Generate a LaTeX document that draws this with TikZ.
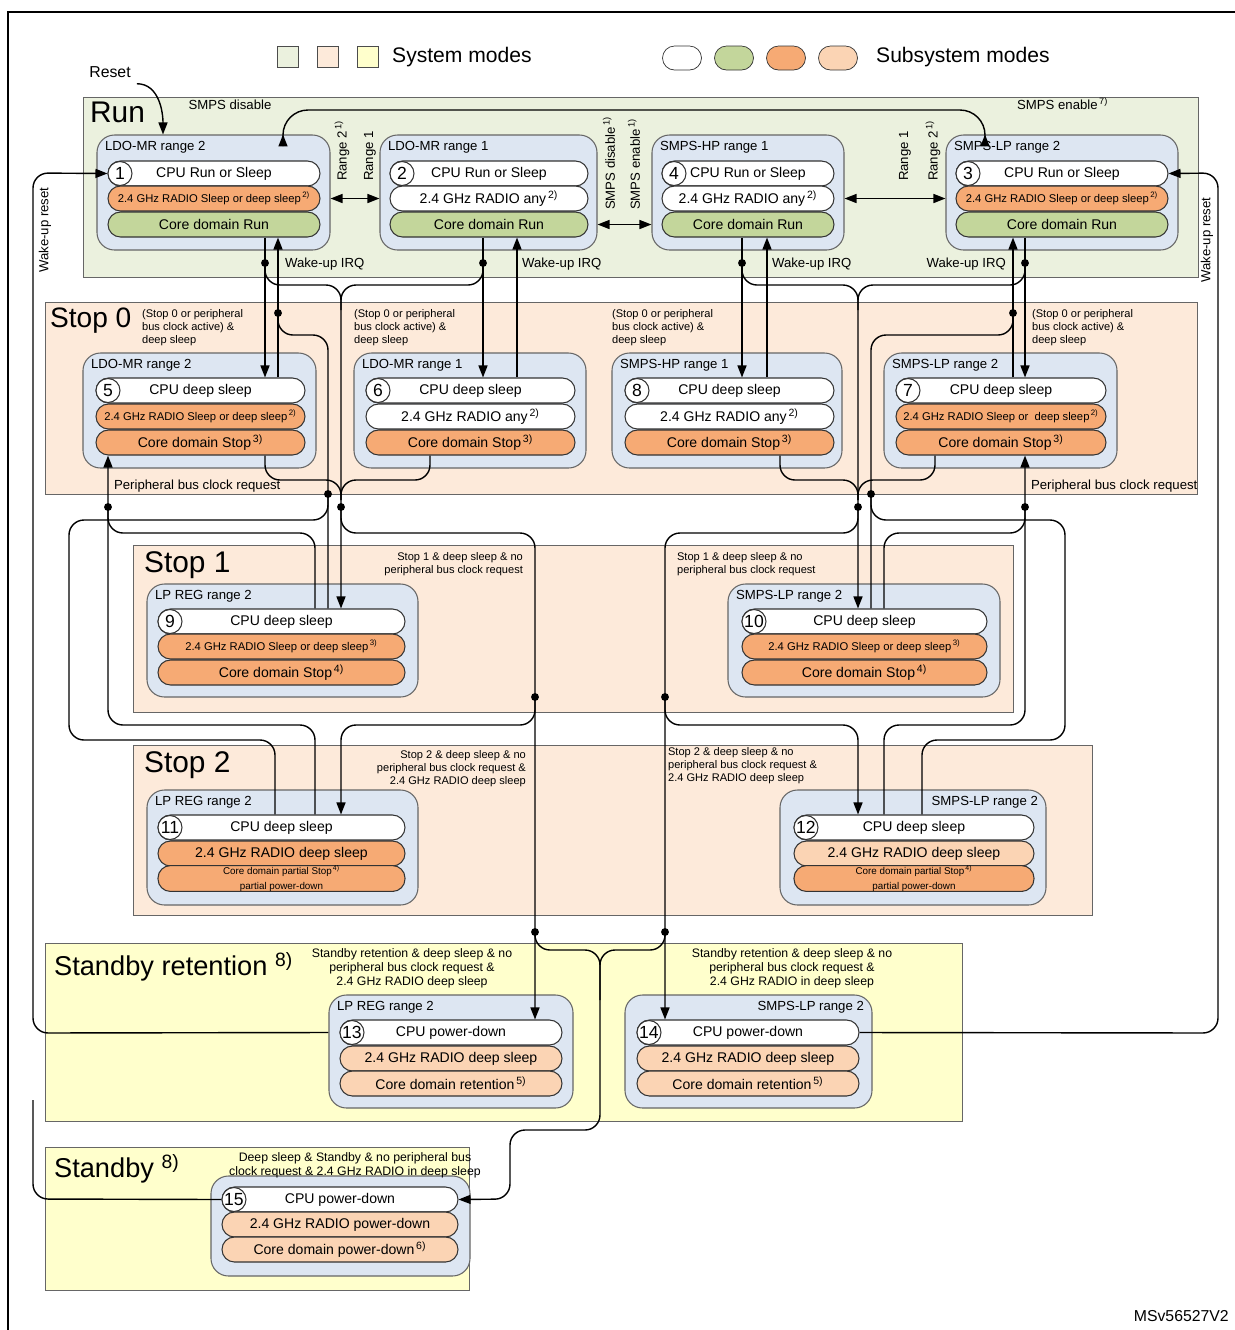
\documentclass[tikz,border=0pt]{standalone}
\usepackage{fontspec}
\setmainfont{Liberation Sans}
\usetikzlibrary{arrows.meta, positioning}
\definecolor{runbg}{RGB}{235, 241, 222}
\definecolor{stopbg}{RGB}{253, 234, 218}
\definecolor{stbybg}{RGB}{255, 255, 204}
\definecolor{boxbg}{RGB}{221, 230, 242}
\definecolor{greenpill}{RGB}{195, 214, 155}
\definecolor{orangepill}{RGB}{246, 170, 116}
\definecolor{peachpill}{RGB}{251, 212, 180}

\tikzset{
  region/.style={draw=black!60, line width=0.5pt},
  modebox/.style={draw=black!60, fill=boxbg, rounded corners=0.35cm, line width=0.6pt},
  pill/.style={draw=black!80, rounded corners=0.25cm, minimum height=0.5cm, inner sep=0pt, line width=0.6pt, font=\fontsize{8}{9}\selectfont},
  num/.style={circle, draw=black!80, fill=white, minimum size=0.48cm, inner sep=0pt, line width=0.6pt, font=\fontsize{10}{10}\selectfont},
  title/.style={font=\fontsize{7.5}{8}\selectfont, inner sep=1pt},
  note/.style={font=\fontsize{6.3}{7.5}\selectfont, align=left, inner sep=1pt},
  cond/.style={font=\fontsize{7}{8.2}\selectfont, align=center, inner sep=1pt},
  big/.style={font=\fontsize{17}{17}\selectfont, inner sep=1pt},
  conn/.style={draw, line width=0.8pt, rounded corners=0.3cm},
  arr/.style={-{Triangle[length=2.4mm, width=1.8mm]}},
  biarr/.style={{Triangle[length=2.4mm, width=1.8mm]}-{Triangle[length=2.4mm, width=1.8mm]}},
  dot/.style={circle, fill, inner sep=0pt, minimum size=4.5pt}
}

% blue state box: name, x1, y1, x2, y2
\newcommand{\statebox}[5]{%
  \node[modebox, minimum width={(#4-#2)*0.02cm}, minimum height={(#5-#3)*0.02cm}] (#1) at ({(#2+#4)/2},{(#3+#5)/2}) {};}
% pill: name, x1, x2, ytop, colour, text
\newcommand{\pill}[6]{%
  \node[pill, fill=#5, minimum width={(#3-#2)*0.02cm}] (#1) at ({(#2+#3)/2},{#4+12.5}) {#6};}
\newcommand{\fn}[1]{\textsuperscript{\,#1)}}
\newcommand{\sm}{\fontsize{6.4}{7}\selectfont}
\newcommand{\xs}{\fontsize{5.6}{6.2}\selectfont}

\begin{document}
\begin{tikzpicture}[x=0.02cm, y=-0.02cm]
  \useasboundingbox (0,0) rectangle (1235,1330);
  \draw[line width=0.8pt] (8,1330) -- (8,12) -- (1235,12);

  % legend
  \foreach \c [count=\i] in {runbg, stopbg, stbybg}
    \node[draw=black!70, fill=\c, minimum size=0.42cm, inner sep=0pt] (lsq\i) at ({248+40*\i},57) {};
  \node[anchor=west, font=\fontsize{12}{12}\selectfont] (lsys) at (386,57) {System modes};
  \foreach \c [count=\i] in {white, greenpill, orangepill, peachpill}
    \node[draw=black!80, fill=\c, rounded corners=0.24cm, minimum width=0.78cm, minimum height=0.48cm] (lov\i) at ({630+52*\i},58) {};
  \node[anchor=west, font=\fontsize{12}{12}\selectfont] (lsub) at (870,57) {Subsystem modes};

  % system mode regions
  \draw[region, fill=runbg] (83,97) rectangle (1198,277);
  \draw[region, fill=stopbg] (45,302) rectangle (1197,494);
  \draw[region, fill=stopbg] (133,545) rectangle (1013,712);
  \draw[region, fill=stopbg] (133,745) rectangle (1092,915);
  \draw[region, fill=stbybg] (45,943) rectangle (962,1121);
  \draw[region, fill=stbybg] (45,1147) rectangle (469,1290);
  \node[big, anchor=north west] (lrun) at (88,100) {Run};
  \node[big, anchor=north west, font=\fontsize{16}{16}\selectfont] (lstop0) at (48,306) {Stop 0};
  \node[big, anchor=north west] (lstop1) at (142,550) {Stop 1};
  \node[big, anchor=north west] (lstop2) at (142,750) {Stop 2};
  \node[big, anchor=north west, font=\fontsize{15.5}{16}\selectfont] (lret) at (52,950) {Standby retention \textsuperscript{\fontsize{11}{11}\selectfont 8)}};
  \node[big, anchor=north west, font=\fontsize{15.5}{16}\selectfont] (lstby) at (52,1152) {Standby \textsuperscript{\fontsize{11}{11}\selectfont 8)}};

  % Run states
  \statebox{b1}{97}{135}{330}{250}
  \statebox{b2}{380}{135}{597}{250}
  \statebox{b4}{652}{135}{844}{250}
  \statebox{b3}{946}{135}{1178}{250}
  \node[title, anchor=west] at (103,147) {LDO-MR range 2};
  \node[title, anchor=west] at (386,147) {LDO-MR range 1};
  \node[title, anchor=west] at (658,147) {SMPS-HP range 1};
  \node[title, anchor=west] at (952,147) {SMPS-LP range 2};
  \pill{s1a}{108}{320}{161}{white}{CPU Run or Sleep}
  \pill{s1b}{108}{320}{186}{orangepill}{\sm 2.4 GHz RADIO Sleep or deep sleep\fn{2}}
  \pill{s1c}{108}{320}{212}{greenpill}{Core domain Run}
  \pill{s2a}{390}{588}{161}{white}{CPU Run or Sleep}
  \pill{s2b}{390}{588}{186}{white}{2.4 GHz RADIO any\fn{2}}
  \pill{s2c}{390}{588}{212}{greenpill}{Core domain Run}
  \pill{s4a}{662}{834}{161}{white}{CPU Run or Sleep}
  \pill{s4b}{662}{834}{186}{white}{2.4 GHz RADIO any\fn{2}}
  \pill{s4c}{662}{834}{212}{greenpill}{Core domain Run}
  \pill{s3a}{956}{1168}{161}{white}{CPU Run or Sleep}
  \pill{s3b}{956}{1168}{186}{orangepill}{\sm 2.4 GHz RADIO Sleep or deep sleep\fn{2}}
  \pill{s3c}{956}{1168}{212}{greenpill}{Core domain Run}

  % Stop 0 states
  \statebox{b5}{83}{353}{316}{468}
  \statebox{b6}{354}{353}{586}{468}
  \statebox{b8}{612}{353}{842}{468}
  \statebox{b7}{884}{353}{1117}{468}
  \node[title, anchor=west] at (89,365) {LDO-MR range 2};
  \node[title, anchor=west] at (360,365) {LDO-MR range 1};
  \node[title, anchor=west] at (618,365) {SMPS-HP range 1};
  \node[title, anchor=west] at (890,365) {SMPS-LP range 2};
  \pill{s5a}{96}{305}{378}{white}{CPU deep sleep}
  \pill{s5b}{96}{305}{404}{orangepill}{\sm 2.4 GHz RADIO Sleep or deep sleep\fn{2}}
  \pill{s5c}{96}{305}{430}{orangepill}{Core domain Stop\fn{3}}
  \pill{s6a}{366}{575}{378}{white}{CPU deep sleep}
  \pill{s6b}{366}{575}{404}{white}{2.4 GHz RADIO any\fn{2}}
  \pill{s6c}{366}{575}{430}{orangepill}{Core domain Stop\fn{3}}
  \pill{s8a}{625}{834}{378}{white}{CPU deep sleep}
  \pill{s8b}{625}{834}{404}{white}{2.4 GHz RADIO any\fn{2}}
  \pill{s8c}{625}{834}{430}{orangepill}{Core domain Stop\fn{3}}
  \pill{s7a}{896}{1106}{378}{white}{CPU deep sleep}
  \pill{s7b}{896}{1106}{404}{orangepill}{\sm 2.4 GHz RADIO Sleep or\ \ deep sleep\fn{2}}
  \pill{s7c}{896}{1106}{430}{orangepill}{Core domain Stop\fn{3}}

  % Stop 1 states
  \statebox{b9}{147}{584}{418}{697}
  \statebox{b10}{728}{584}{1000}{697}
  \node[title, anchor=west] at (153,596) {LP REG range 2};
  \node[title, anchor=west] at (734,596) {SMPS-LP range 2};
  \pill{s9a}{158}{405}{609}{white}{CPU deep sleep}
  \pill{s9b}{158}{405}{634}{orangepill}{\sm 2.4 GHz RADIO Sleep or deep sleep\fn{3}}
  \pill{s9c}{158}{405}{660}{orangepill}{Core domain Stop\fn{4}}
  \pill{s10a}{742}{987}{609}{white}{CPU deep sleep}
  \pill{s10b}{742}{987}{634}{orangepill}{\sm 2.4 GHz RADIO Sleep or deep sleep\fn{3}}
  \pill{s10c}{742}{987}{660}{orangepill}{Core domain Stop\fn{4}}

  % Stop 2 states
  \statebox{b11}{147}{790}{418}{905}
  \statebox{b12}{780}{790}{1046}{905}
  \node[title, anchor=west] at (153,802) {LP REG range 2};
  \node[title, anchor=east] at (1040,802) {SMPS-LP range 2};
  \pill{s11a}{158}{405}{815}{white}{CPU deep sleep}
  \pill{s11b}{158}{405}{841}{orangepill}{2.4 GHz RADIO deep sleep}
  \pill{s11c}{158}{405}{866}{orangepill}{\xs\shortstack{Core domain partial Stop\fn{4}\\partial power-down}}
  \pill{s12a}{794}{1034}{815}{white}{CPU deep sleep}
  \pill{s12b}{794}{1034}{841}{peachpill}{2.4 GHz RADIO deep sleep}
  \pill{s12c}{794}{1034}{866}{orangepill}{\xs\shortstack{Core domain partial Stop\fn{4}\\partial power-down}}

  % Standby retention states
  \statebox{b13}{329}{995}{573}{1108}
  \statebox{b14}{625}{995}{872}{1108}
  \node[title, anchor=west] at (335,1007) {LP REG range 2};
  \node[title, anchor=east] at (866,1007) {SMPS-LP range 2};
  \pill{s13a}{340}{562}{1020}{white}{CPU power-down}
  \pill{s13b}{340}{562}{1046}{peachpill}{2.4 GHz RADIO deep sleep}
  \pill{s13c}{340}{562}{1071}{peachpill}{Core domain retention\fn{5}}
  \pill{s14a}{637}{859}{1020}{white}{CPU power-down}
  \pill{s14b}{637}{859}{1046}{peachpill}{2.4 GHz RADIO deep sleep}
  \pill{s14c}{637}{859}{1071}{peachpill}{Core domain retention\fn{5}}

  % Standby state
  \statebox{b15}{211}{1176}{470}{1276}
  \pill{s15a}{222}{458}{1187}{white}{CPU power-down}
  \pill{s15b}{222}{458}{1212}{peachpill}{2.4 GHz RADIO power-down}
  \pill{s15c}{222}{458}{1237}{peachpill}{Core domain power-down\fn{6}}

  % state numbers
  \foreach \n/\p in {1/s1a, 2/s2a, 4/s4a, 3/s3a, 5/s5a, 6/s6a, 8/s8a, 7/s7a,
                     9/s9a, 10/s10a, 11/s11a, 12/s12a, 13/s13a, 14/s14a, 15/s15a}
    \node[num, right=0pt of \p.west] (n\n) {\n};

  % conditions
  \node[note, anchor=north west] (c0a) at (140,307) {(Stop 0 or peripheral\\bus clock active) \&\\deep sleep};
  \node[note, anchor=north west] (c0b) at (352,307) {(Stop 0 or peripheral\\bus clock active) \&\\deep sleep};
  \node[note, anchor=north west] (c0c) at (610,307) {(Stop 0 or peripheral\\bus clock active) \&\\deep sleep};
  \node[note, anchor=north west] (c0d) at (1030,307) {(Stop 0 or peripheral\\bus clock active) \&\\deep sleep};
  \node[note, align=right, anchor=north east] (c1a) at (525,550) {Stop 1 \& deep sleep \& no\\peripheral bus clock request};
  \node[note, anchor=north west] (c1b) at (675,550) {Stop 1 \& deep sleep \& no\\peripheral bus clock request};
  \node[note, align=right, anchor=north east] (c2a) at (528,748) {Stop 2 \& deep sleep \& no\\peripheral bus clock request \&\\2.4 GHz RADIO deep sleep};
  \node[note, anchor=north west] (c2b) at (666,745) {Stop 2 \& deep sleep \& no\\peripheral bus clock request \&\\2.4 GHz RADIO deep sleep};
  \node[cond, anchor=north] (c3a) at (412,946) {Standby retention \& deep sleep \& no\\peripheral bus clock request \&\\2.4 GHz RADIO deep sleep};
  \node[cond, anchor=north] (c3b) at (792,946) {Standby retention \& deep sleep \& no\\peripheral bus clock request \&\\2.4 GHz RADIO in deep sleep};
  \node[cond, anchor=north] (c4) at (355,1150) {Deep sleep \& Standby \& no peripheral bus\\clock request \& 2.4 GHz RADIO in deep sleep};

  % Run transitions
  \node[font=\fontsize{9}{9}\selectfont] (reset) at (110,72) {Reset};
  \draw[conn, arr] (reset.south east) to[out=0, in=90] (163,0 |- b1.north);
  \draw[conn, biarr, rounded corners=0.5cm] (283,0 |- b1.north) -- (283,110) -- (985,110) -- (985,0 |- b3.north);
  \node[title, anchor=south] at (230,112) {SMPS disable};
  \node[title, anchor=south west] at (1015,112) {SMPS enable\fn{7}};
  \draw[conn, biarr] (b1.east |- s1b) -- (b2.west |- s1b);
  \draw[conn, biarr] (b2.east |- s2c) -- (b4.west |- s2c);
  \draw[conn, biarr] (b4.east |- s4b) -- (b3.west |- s4b);
  \node[title, rotate=90, anchor=west] at (342,183) {Range 2\fn{1}};
  \node[title, rotate=90, anchor=west] at (370,183) {Range 1};
  \node[title, rotate=90, anchor=west] at (609,212) {SMPS disable\fn{1}};
  \node[title, rotate=90, anchor=west] at (634,212) {SMPS enable\fn{1}};
  \node[title, rotate=90, anchor=west] at (905,183) {Range 1};
  \node[title, rotate=90, anchor=west] at (933,183) {Range 2\fn{1}};

  % wake-up reset
  \draw[conn, arr] (b13.west |- s13a) -- (33,1033) -- (33,173) -- (s1a.west);
  \draw[conn] (s15a.west) -- (33,1199) -- (33,1100);
  \draw[conn, arr] (s14a.east) -- (1218,1033) -- (1218,173) -- (s3a.east);
  \node[title, rotate=90] at (45,230) {Wake-up reset};
  \node[title, rotate=90] at (1207,240) {Wake-up reset};

  % Run <-> Stop 0
  \foreach \d/\u/\a/\c in {265/278/s1c/s5a, 483/517/s2c/s6a, 742/767/s4c/s8a, 1025/1013/s3c/s7a}{
    \draw[conn, arr] (\d,0 |- \a.south) -- (\d,0 |- \c.north);
    \draw[conn, arr] (\u,0 |- \c.north) -- (\u,0 |- \a.south);
    \node[dot] at (\d,263) {};
  }
  \node[title, anchor=west] at (283,264) {Wake-up IRQ};
  \node[title, anchor=west] at (520,264) {Wake-up IRQ};
  \node[title, anchor=west] at (770,264) {Wake-up IRQ};
  \node[title, anchor=east] at (1008,264) {Wake-up IRQ};

  % left side: to Stop 1 / Stop 2 / Standby
  \draw[conn, arr] (265,263) -- (265,285) -- (341,285) -- (341,0 |- s9a.north);
  \draw[conn] (483,263) -- (483,285) -- (341,285) -- (341,310);
  \draw[conn] (265,0 |- s5c.south) -- (265,480) -- (341,480) -- (341,500);
  \draw[conn] (430,0 |- s6c.south) -- (430,480) -- (341,480) -- (341,500);
  \draw[conn, arr] (341,507) -- (341,533) -- (535,533) -- (535,0 |- s13a.north);
  \draw[conn, arr] (535,697) -- (535,725) -- (341,725) -- (341,0 |- s11a.north);
  \draw[conn, arr] (535,932) -- (535,950) -- (600,950) -- (600,1130) -- (510,1130) -- (510,1199) -- (s15a.east);
  \draw[conn] (328,0 |- s9a.north) -- (328,335) -- (278,335) -- (278,313);
  \draw[conn] (328,494) -- (328,520) -- (69,520) -- (69,740) -- (275,740) -- (275,0 |- s11a.north);
  \draw[conn, arr] (315,0 |- s11a.north) -- (315,725) -- (108,725) -- (108,0 |- s5c.south);
  \draw[conn] (315,0 |- s9a.north) -- (315,533) -- (108,533) -- (108,507);
  \foreach \p in {(341,507), (535,697), (535,932), (278,313), (328,494), (108,507)}
    \node[dot] at \p {};
  \node[title, anchor=west] at (112,486) {Peripheral bus clock request};

  % right side: to Stop 1 / Stop 2 / Standby
  \draw[conn, arr] (742,263) -- (742,285) -- (858,285) -- (858,0 |- s10a.north);
  \draw[conn] (1025,263) -- (1025,285) -- (858,285) -- (858,310);
  \draw[conn] (780,0 |- s8c.south) -- (780,480) -- (858,480) -- (858,500);
  \draw[conn] (935,0 |- s7c.south) -- (935,480) -- (858,480) -- (858,500);
  \draw[conn, arr] (858,507) -- (858,533) -- (665,533) -- (665,0 |- s14a.north);
  \draw[conn, arr] (665,697) -- (665,725) -- (858,725) -- (858,0 |- s12a.north);
  \draw[conn] (665,932) -- (665,950) -- (600,950) -- (600,1000);
  \draw[conn] (871,0 |- s10a.north) -- (871,335) -- (1013,335) -- (1013,313);
  \draw[conn] (871,494) -- (871,520) -- (1065,520) -- (1065,740) -- (922,740) -- (922,0 |- s12a.north);
  \draw[conn, arr] (884,0 |- s12a.north) -- (884,725) -- (1025,725) -- (1025,0 |- s7c.south);
  \draw[conn] (884,0 |- s10a.north) -- (884,533) -- (1025,533) -- (1025,507);
  \foreach \p in {(858,507), (665,697), (665,932), (1013,313), (871,494), (1025,507)}
    \node[dot] at \p {};
  \node[title, anchor=west] at (1029,486) {Peripheral bus clock request};

  \node[font=\fontsize{9}{9}\selectfont, anchor=south east] (ref) at (1235,1328) {MSv56527V2};
\end{tikzpicture}
\end{document}
